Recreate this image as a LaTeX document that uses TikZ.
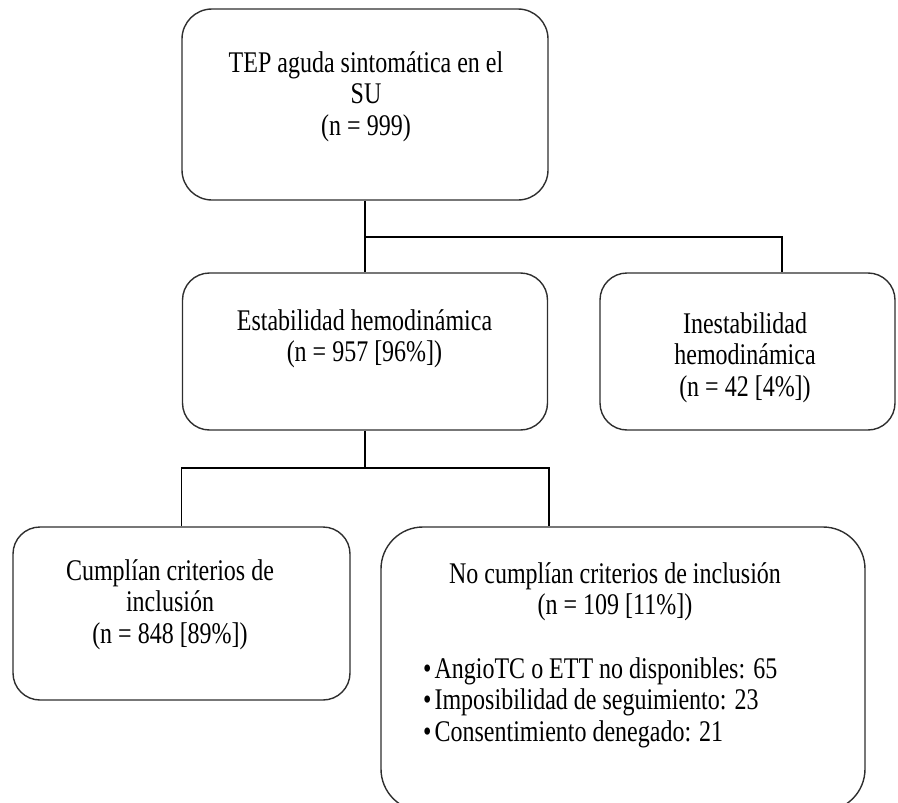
\documentclass[tikz,border=0pt]{standalone}
\usepackage{fontspec}
\setmainfont{Liberation Serif}[FakeStretch=0.8]
\usetikzlibrary{calc}
\definecolor{myline}{rgb}{0.18,0.18,0.18}
\newcommand{\stacklines}[1]{\begin{tabular}[t]{@{}c@{}}#1\end{tabular}}
\newcommand{\leftlines}[1]{\begin{tabular}[t]{@{}l@{}}#1\end{tabular}}
\newcommand{\bul}{•\hspace{3pt}}
\tikzset{
  flowbox/.style={draw=myline,line width=1.4pt,rounded corners=27pt,inner sep=0pt},
  boxtext/.style={inner sep=0pt,anchor=base,font=\fontsize{30}{31.5}\selectfont},
  link/.style={draw=black,line width=1.2pt}
}

\begin{document}
\begin{tikzpicture}[x=1pt,y=-1pt]
    \clip (0,0) rectangle (898,803);% page of the reference size

    % Boxes, placed at their centres
    \node[flowbox,rounded corners=30pt,minimum width=366pt,minimum height=191pt] (tep) at (365,104.5) {};
    \node[flowbox,minimum width=365pt,minimum height=157pt] (estable) at (365,351.5) {};
    \node[flowbox,minimum width=295pt,minimum height=157pt] (inestable) at (747.5,351.5) {};
    \node[flowbox,minimum width=337pt,minimum height=173pt] (cumplen) at (181.5,613.5) {};
    \node[flowbox,rounded corners=42pt,minimum width=484pt,minimum height=284pt] (nocumplen) at (623,669) {};

    % Texts, placed at the baseline of their first line
    \node[boxtext] (tepT) at (366,72) {\stacklines{TEP aguda sintomática en el\\SU\\(n = 999)}};
    \node[boxtext] (estableT) at (364.5,330) {\stacklines{Estabilidad hemodinámica\\(n = 957 [96\%])}};
    \node[boxtext] (inestableT) at (745,333) {\stacklines{Inestabilidad\\hemodinámica\\(n = 42 [4\%])}};
    \node[boxtext] (cumplenT) at (170,580) {\stacklines{Cumplían criterios de\\inclusión\\(n = 848 [89\%])}};
    \node[boxtext] (nocumplenT) at (615,583) {\stacklines{No cumplían criterios de inclusión\\(n = 109 [11\%])}};
    \node[boxtext,anchor=base west] (nocumplenL) at (423,678)
        {\leftlines{\bul AngioTC o ETT no disponibles: 65\\
                    \bul Imposibilidad de seguimiento: 23\\
                    \bul Consentimiento denegado: 21}};

    % Branch points of the connectors
    \coordinate (j1) at (365,237);
    \coordinate (j1r) at (782,237);
    \coordinate (j2) at (365,468);
    \coordinate (j2r) at (549,468);

    \draw[link] (tep.south) -- (j1) -- (estable.north);
    \draw[link] (j1) -- (j1r) -- (j1r |- inestable.north);
    \draw[link] (estable.south) -- (j2);
    \draw[link] (cumplen.north) |- (j2r) -- (j2r |- nocumplen.north);

\end{tikzpicture}
\end{document}
